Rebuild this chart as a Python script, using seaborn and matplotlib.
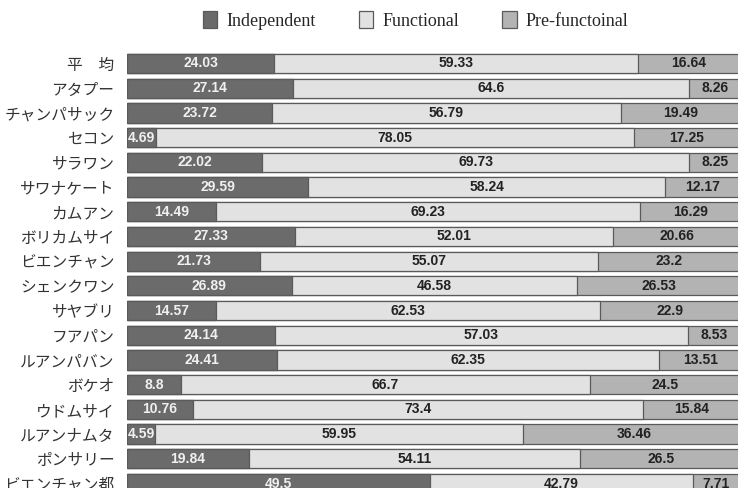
import numpy as np
import pandas as pd
import seaborn as sns
import matplotlib.pyplot as plt
from matplotlib.patches import Patch

# 地域ごとの割合 (%)
regions = ['平　均', 'アタプー', 'チャンパサック', 'セコン', 'サラワン', 'サワナケート',
           'カムアン', 'ボリカムサイ', 'ビエンチャン', 'シェンクワン', 'サヤブリ', 'フアパン',
           'ルアンパバン', 'ボケオ', 'ウドムサイ', 'ルアンナムタ', 'ポンサリー', 'ビエンチャン都']
independent = [24.03, 27.14, 23.72, 4.69, 22.02, 29.59, 14.49, 27.33, 21.73,
               26.89, 14.57, 24.14, 24.41, 8.8, 10.76, 4.59, 19.84, 49.5]
# 棒の長さ (フアパンは図では約67.33の長さで描かれている)
functional = [59.33, 64.6, 56.79, 78.05, 69.73, 58.24, 69.23, 52.01, 55.07,
              46.58, 62.53, 67.33, 62.35, 66.7, 73.4, 59.95, 54.11, 42.79]
# 図に書かれているラベル
functional_labels = ['59.33', '64.6', '56.79', '78.05', '69.73', '58.24', '69.23', '52.01', '55.07',
                     '46.58', '62.53', '57.03', '62.35', '66.7', '73.4', '59.95', '54.11', '42.79']
pre_functional = [16.64, 8.26, 19.49, 17.25, 8.25, 12.17, 16.29, 20.66, 23.2,
                  26.53, 22.9, 8.53, 13.51, 24.5, 15.84, 36.46, 26.5, 7.71]
series_names = ['Independent', 'Functional', 'Pre-functoinal']

df = pd.DataFrame({'region': regions, 'ind': independent,
                   'func': functional, 'pre': pre_functional})
df['c1'] = df['ind']
df['c2'] = df['ind'] + df['func']
df['c3'] = df['c2'] + df['pre']

col_ind, col_func, col_pre = '#6b6b6b', '#e2e2e2', '#b3b3b3'
edge = '#5a5a5a'

sns.set_style('white')
plt.rcParams['font.family'] = ['Noto Sans CJK JP', 'DejaVu Sans']

fig = plt.figure(figsize=(7.38, 4.88), dpi=100)
ax = fig.add_axes([0.1721, -0.0162, 0.8306, 0.9115])

# 積み上げ棒 (累積値を後ろから描く)
for col, color in [('c3', col_pre), ('c2', col_func), ('c1', col_ind)]:
    sns.barplot(data=df, x=col, y='region', color=color, orient='h', width=0.78,
                edgecolor=edge, linewidth=0.9, saturation=1, ax=ax)

# 値ラベル
lab = dict(ha='center', va='center', fontsize=10, fontweight='bold', family='Liberation Sans')
for i, row in df.iterrows():
    ax.text(row['ind'] / 2, i, f"{row['ind']:g}", color='#f0f0f0', **lab)
    ax.text(row['ind'] + row['func'] / 2, i, functional_labels[i], color='#222222', **lab)
    ax.text(row['c2'] + row['pre'] / 2, i, f"{row['pre']:g}", color='#222222', **lab)

ax.set_xlim(0, 100)
ax.set_ylim(len(regions) - 0.5, -0.5)
ax.set_xlabel('')
ax.set_ylabel('')
ax.set_xticks([])
ax.tick_params(axis='y', length=0, pad=9, labelsize=11.3, labelcolor='#333333')
sns.despine(ax=ax, left=True, bottom=True)

handles = [Patch(facecolor=c, edgecolor=edge, linewidth=0.9)
           for c in [col_ind, col_func, col_pre]]
fig.legend(handles, series_names, loc='center', bbox_to_anchor=(0.563, 0.958),
           ncol=3, frameon=False, handlelength=0.8, handleheight=1.1,
           handletextpad=0.5, columnspacing=2.4,
           prop={'family': 'Liberation Serif', 'size': 13})

fig.savefig('out.png', dpi=100)
